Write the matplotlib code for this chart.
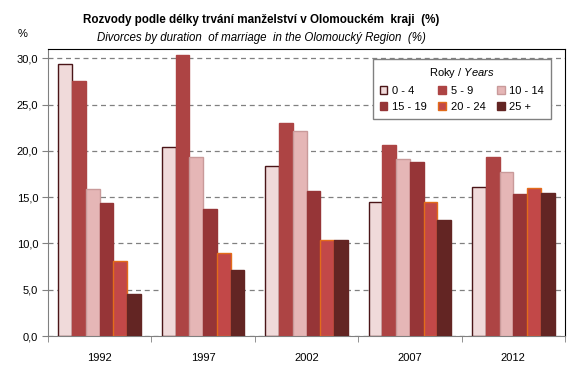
import matplotlib
matplotlib.use("Agg")
import matplotlib.pyplot as plt
import numpy as np
from matplotlib.ticker import FuncFormatter

plt.rcParams['font.family'] = ['Liberation Sans', 'DejaVu Sans']
plt.rcParams['mathtext.fontset'] = 'custom'
plt.rcParams['mathtext.rm'] = 'Liberation Sans'
plt.rcParams['mathtext.it'] = 'Liberation Sans:italic'

years = ['1992', '1997', '2002', '2007', '2012']
durations = ['0 - 4', '5 - 9', '10 - 14', '15 - 19', '20 - 24', '25 +']
v_0_4 = [29.4, 20.4, 18.4, 14.5, 16.1]
v_5_9 = [27.5, 30.3, 23.0, 20.6, 19.3]
v_10_14 = [15.9, 19.3, 22.1, 19.1, 17.7]
v_15_19 = [14.4, 13.7, 15.7, 18.8, 15.3]
v_20_24 = [8.1, 9.0, 10.4, 14.5, 16.0]
v_25 = [4.5, 7.1, 10.4, 12.5, 15.5]
series = [v_0_4, v_5_9, v_10_14, v_15_19, v_20_24, v_25]

fills = ['#F0DADA', '#AD4444', '#E5B6B6', '#963537', '#C24848', '#632523']
edges = ['#4A1518', '#AD4444', '#C99A9A', '#963537', '#E36C1A', '#632523']

fig = plt.figure(figsize=(5.83, 3.74), dpi=100)
ax = fig.add_axes([48/583, 1-336/374, (565-48)/583, (336-49)/374])

n = len(series)
bw = 0.8 / n
x = np.arange(len(years))
handles = []
for i, (vals, fc, ec) in enumerate(zip(series, fills, edges)):
    b = ax.bar(x - 0.4 + bw*(i+0.5), vals, width=bw, color=fc, edgecolor=ec,
               linewidth=1.0, label=durations[i], zorder=3)
    handles.append(b)

ax.set_xlim(-0.5, len(years)-0.5)
ax.set_ylim(0, 31)
ax.set_yticks(np.arange(0, 31, 5))
ax.yaxis.set_major_formatter(FuncFormatter(lambda v, p: f"{v:.1f}".replace('.', ',')))
ax.set_xticks(x)
ax.set_xticklabels(years)
ax.set_xticks(np.arange(-0.5, len(years), 1), minor=True)
ax.tick_params(axis='x', which='major', length=0, pad=12, labelsize=8)
ax.tick_params(axis='x', which='minor', length=4, color='#808080', direction='out')
ax.tick_params(axis='y', length=4, color='#808080', labelsize=8, pad=3)
ax.grid(axis='y', linestyle=(0, (4, 3)), color='#808080', linewidth=0.9, zorder=0)

for s in ['left', 'bottom']:
    ax.spines[s].set_color('#808080')
for s in ['top', 'right']:
    ax.spines[s].set_color('black')

fig.text(261/583, 1-20/374, 'Rozvody podle délky trvání manželství v Olomouckém  kraji  (%)',
         ha='center', va='center', fontsize=8.4, fontweight='bold')
fig.text(261/583, 1-38/374, 'Divorces by duration  of marriage  in the Olomoucký Region  (%)',
         ha='center', va='center', fontsize=8.3, fontstyle='italic')
fig.text(23/583, 1-34/374, '%', ha='center', va='center', fontsize=8)

order = [0, 3, 1, 4, 2, 5]
leg = ax.legend([handles[i] for i in order], [durations[i] for i in order], ncol=3,
                title=r'Roky / $\it{Years}$', title_fontsize=8, fontsize=8,
                loc='upper left', bbox_to_anchor=((373-48)/517, 1-(59-49)/287),
                borderaxespad=0,
                frameon=True, fancybox=False, edgecolor='#808080', framealpha=1,
                handlelength=0.7, handleheight=0.7, handletextpad=0.4,
                columnspacing=1.05, borderpad=0.6, labelspacing=0.55)
leg.get_frame().set_linewidth(1.0)

fig.savefig('out.png', dpi=100)
